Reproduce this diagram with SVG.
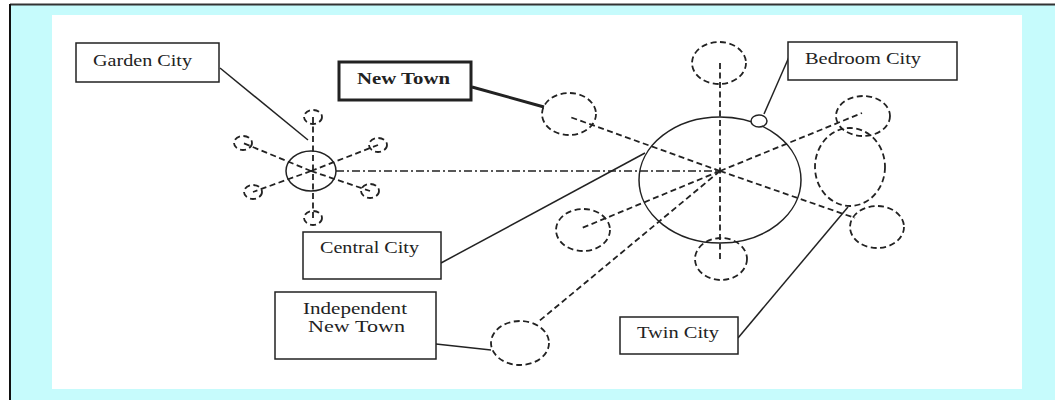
<svg xmlns="http://www.w3.org/2000/svg" width="1055" height="400" viewBox="0 0 1055 400">
<style>
.box{fill:#fff;stroke:#222;stroke-width:1.5}
.bold{fill:#fff;stroke:#222;stroke-width:3}
.t{font-family:"Liberation Serif",serif;font-size:17px;fill:#222}
.tb{font-family:"Liberation Serif",serif;font-size:17px;font-weight:bold;fill:#222}
.solid{fill:none;stroke:#222;stroke-width:1.5}
.dc{fill:none;stroke:#222;stroke-width:1.8;stroke-dasharray:6 3.5}
.dl{fill:none;stroke:#222;stroke-width:1.8;stroke-dasharray:6 3.5}
.dd{fill:none;stroke:#222;stroke-width:1.5;stroke-dasharray:8 3 2 3}
</style>
<rect x="0" y="0" width="1055" height="400" fill="#fff"/>
<rect x="10" y="4.5" width="1045" height="396" fill="#C6FBFC"/>
<line x1="10" y1="4.5" x2="1055" y2="4.5" stroke="#333" stroke-width="2"/>
<line x1="10" y1="4" x2="10" y2="400" stroke="#111" stroke-width="2"/>
<rect x="52" y="15" width="970" height="374" fill="#fff"/>

<g id="connectors">
  <line class="dl" x1="311" y1="171" x2="243" y2="143"/>
  <line class="dl" x1="311" y1="171" x2="378" y2="145"/>
  <line class="dl" x1="311" y1="171" x2="253" y2="192"/>
  <line class="dl" x1="311" y1="171" x2="370" y2="191"/>
  <line class="dl" x1="313" y1="117" x2="313" y2="218"/>
  <line class="dd" x1="336" y1="171" x2="720" y2="171"/>
  <line class="dl" x1="720" y1="171" x2="570" y2="117"/>
  <line class="dl" x1="720" y1="63" x2="720" y2="259"/>
  <line class="dl" x1="720" y1="171" x2="862" y2="113"/>
  <line class="dl" x1="720" y1="171" x2="855" y2="218"/>
  <line class="dl" x1="720" y1="171" x2="582" y2="228"/>
  <line class="dl" x1="720" y1="171" x2="538" y2="322"/>
  <line class="solid" x1="220" y1="68" x2="308" y2="140"/>
  <line x1="472" y1="87" x2="544" y2="107" stroke="#222" stroke-width="3"/>
  <line class="solid" x1="764" y1="114" x2="789" y2="57"/>
  <line class="solid" x1="441" y1="263" x2="645" y2="153"/>
  <line class="solid" x1="436" y1="344" x2="491" y2="350"/>
  <line class="solid" x1="738" y1="338" x2="848" y2="207"/>
</g>

<g id="garden-cluster">
  <ellipse class="dc" cx="313" cy="117" rx="9" ry="7"/>
  <ellipse class="dc" cx="243" cy="143" rx="9" ry="7"/>
  <ellipse class="dc" cx="378" cy="145" rx="9" ry="7"/>
  <ellipse class="dc" cx="253" cy="192" rx="9" ry="7"/>
  <ellipse class="dc" cx="370" cy="191" rx="9" ry="7"/>
  <ellipse class="dc" cx="313" cy="218" rx="9" ry="7"/>
  <ellipse class="solid" cx="311" cy="171" rx="25" ry="20"/>
</g>

<g id="central-cluster">
  <ellipse class="solid" cx="720" cy="180" rx="81" ry="63"/>
  <ellipse class="dc" cx="719" cy="63" rx="27" ry="21"/>
  <ellipse class="dc" cx="569" cy="114" rx="27" ry="21"/>
  <ellipse class="dc" cx="863" cy="116" rx="27" ry="20"/>
  <ellipse class="dc" cx="850" cy="167" rx="35" ry="39"/>
  <ellipse class="dc" cx="877" cy="227" rx="27" ry="21"/>
  <ellipse class="dc" cx="583" cy="230" rx="27" ry="21"/>
  <ellipse class="dc" cx="721" cy="259" rx="26" ry="21"/>
  <ellipse class="dc" cx="520" cy="343" rx="29" ry="22"/>
  <ellipse class="solid" cx="759" cy="121" rx="8" ry="6" style="fill:#fff"/>
</g>

<g id="garden-city">
  <rect class="box" x="76" y="43" width="143" height="39"/>
  <text class="t" x="93" y="66" textLength="99" lengthAdjust="spacingAndGlyphs">Garden City</text>
</g>
<g id="new-town">
  <rect class="bold" x="339" y="62" width="132" height="38"/>
  <text class="tb" x="357" y="84" textLength="93" lengthAdjust="spacingAndGlyphs">New Town</text>
</g>
<g id="bedroom-city">
  <rect class="box" x="788" y="42" width="169" height="38"/>
  <text class="t" x="805" y="64" textLength="116" lengthAdjust="spacingAndGlyphs">Bedroom City</text>
</g>
<g id="central-city">
  <rect class="box" x="303" y="232" width="138" height="47"/>
  <text class="t" x="320" y="253" textLength="99" lengthAdjust="spacingAndGlyphs">Central City</text>
</g>
<g id="independent-new-town">
  <rect class="box" x="275" y="292" width="161" height="67"/>
  <text class="t" x="303" y="314" textLength="104" lengthAdjust="spacingAndGlyphs">Independent</text>
  <text class="t" x="308" y="332" textLength="97" lengthAdjust="spacingAndGlyphs">New Town</text>
</g>
<g id="twin-city">
  <rect class="box" x="620" y="317" width="118" height="37"/>
  <text class="t" x="637" y="338" textLength="82" lengthAdjust="spacingAndGlyphs">Twin City</text>
</g>
</svg>
